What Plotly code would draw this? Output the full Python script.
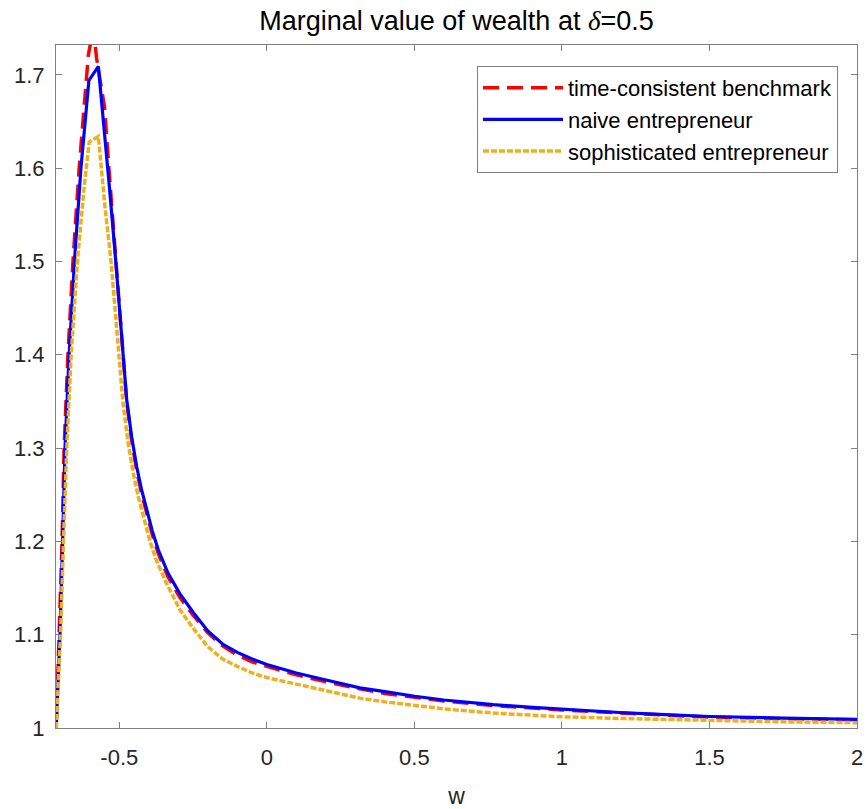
import plotly.graph_objects as go

# time-consistent benchmark (red dashed)
w_tc = [-0.714, -0.703, -0.694, -0.687, -0.674, -0.657, -0.636, -0.605, -0.588, -0.577,
        -0.550, -0.533, -0.515, -0.498, -0.475, -0.458, -0.441, -0.425, -0.407, -0.388,
        -0.368, -0.335, -0.295, -0.25, -0.2, -0.15, -0.1, -0.05, 0.0, 0.044,
        0.1, 0.179, 0.25, 0.315, 0.4, 0.501, 0.6, 0.767, 0.9, 1.0,
        1.195, 1.35, 1.5, 1.75, 2.0]
v_tc = [1.0, 1.1, 1.2, 1.3, 1.4, 1.5, 1.6, 1.721, 1.75, 1.718,
        1.665, 1.590, 1.515, 1.443, 1.350, 1.308, 1.276, 1.252, 1.229, 1.207,
        1.187, 1.162, 1.140, 1.121, 1.102, 1.088, 1.078, 1.071, 1.066, 1.062,
        1.057, 1.051, 1.046, 1.042, 1.037, 1.033, 1.029, 1.0240, 1.0212, 1.0193,
        1.0162, 1.0135, 1.0117, 1.0100, 1.0088]

# naive entrepreneur (blue solid)
w_na = [-0.714, -0.701, -0.692, -0.684, -0.670, -0.652, -0.630, -0.603, -0.571, -0.554,
        -0.535, -0.515, -0.498, -0.475, -0.458, -0.441, -0.425, -0.407, -0.388, -0.368,
        -0.335, -0.295, -0.25, -0.2, -0.15, -0.1, -0.05, 0.0, 0.044, 0.1,
        0.179, 0.25, 0.315, 0.4, 0.501, 0.6, 0.767, 0.9, 1.0, 1.195,
        1.35, 1.5, 1.75, 2.0]
v_na = [1.0, 1.1, 1.2, 1.3, 1.4, 1.5, 1.6, 1.694, 1.709, 1.652,
        1.585, 1.512, 1.441, 1.352, 1.312, 1.280, 1.256, 1.234, 1.211, 1.191,
        1.166, 1.144, 1.124, 1.104, 1.090, 1.081, 1.074, 1.068, 1.064, 1.059,
        1.053, 1.048, 1.043, 1.039, 1.034, 1.030, 1.0250, 1.0220, 1.0200, 1.0166,
        1.0143, 1.0123, 1.0106, 1.0093]

# sophisticated entrepreneur (yellow dotted)
w_so = [-0.714, -0.699, -0.689, -0.678, -0.663, -0.642, -0.619, -0.602, -0.571, -0.549,
        -0.528, -0.512, -0.488, -0.470, -0.452, -0.435, -0.415, -0.396, -0.375, -0.34,
        -0.295, -0.25, -0.2, -0.15, -0.1, -0.05, 0.0, 0.044, 0.1, 0.179,
        0.25, 0.315, 0.4, 0.501, 0.6, 0.767, 0.9, 1.0, 1.195, 1.35,
        1.5, 1.75, 2.0]
v_so = [1.0, 1.1, 1.2, 1.3, 1.4, 1.5, 1.58, 1.628, 1.634, 1.560,
        1.500, 1.440, 1.350, 1.305, 1.272, 1.247, 1.222, 1.200, 1.180, 1.155,
        1.127, 1.107, 1.087, 1.074, 1.066, 1.059, 1.054, 1.051, 1.047, 1.041,
        1.036, 1.032, 1.028, 1.0240, 1.0205, 1.0160, 1.0135, 1.0120, 1.0102, 1.0090,
        1.0078, 1.0066, 1.0057]

x_ticks = [-0.5, 0, 0.5, 1, 1.5, 2]
x_ticklabels = ["-0.5", "0", "0.5", "1", "1.5", "2"]
y_ticks = [1, 1.1, 1.2, 1.3, 1.4, 1.5, 1.6, 1.7]
y_ticklabels = ["1", "1.1", "1.2", "1.3", "1.4", "1.5", "1.6", "1.7"]

fig = go.Figure()
fig.add_trace(go.Scatter(x=w_tc, y=v_tc, mode="lines", name="time-consistent benchmark",
                         line=dict(color="#FF0000", width=3.5, dash="16px,8px")))
fig.add_trace(go.Scatter(x=w_na, y=v_na, mode="lines", name="naive entrepreneur",
                         line=dict(color="#0000FF", width=3.2)))
fig.add_trace(go.Scatter(x=w_so, y=v_so, mode="lines", name="sophisticated entrepreneur",
                         line=dict(color="#EDB120", width=3.5, dash="6px,2px")))

axis_common = dict(showline=True, linecolor="#808080", linewidth=1, mirror="ticks",
                   ticks="inside", ticklen=6, tickcolor="#808080", showgrid=False,
                   zeroline=False, automargin=False,
                   tickfont=dict(family="Liberation Sans", size=22, color="#262626"))

fig.update_xaxes(range=[-0.7145, 2], tickvals=x_ticks, ticktext=x_ticklabels,
                 ticklabelstandoff=10,
                 title=dict(text="w", font=dict(family="Liberation Sans", size=23, color="#262626"),
                            standoff=18),
                 **axis_common)
fig.update_yaxes(range=[1, 1.732], tickvals=y_ticks, ticktext=y_ticklabels,
                 ticklabelstandoff=6, **axis_common)

fig.update_layout(
    width=866, height=809,
    margin=dict(l=56, r=9, t=45, b=81),
    plot_bgcolor="white", paper_bgcolor="white",
    title=dict(text="Marginal value of wealth at <i><span style=\"font-family:'Liberation Serif'\">δ</span></i>=0.5",
               x=(56 + 857) / 2 / 866, xanchor="center", y=1 - 21 / 809, yanchor="middle",
               font=dict(family="Liberation Sans", size=27, color="black")),
    legend=dict(x=0.5256, y=0.9693, xanchor="left", yanchor="top",
                bgcolor="white", bordercolor="#808080", borderwidth=1,
                font=dict(family="Liberation Sans", size=22, color="black"),
                tracegroupgap=0, itemwidth=80),
    showlegend=True,
)

fig.write_html("out.html")
